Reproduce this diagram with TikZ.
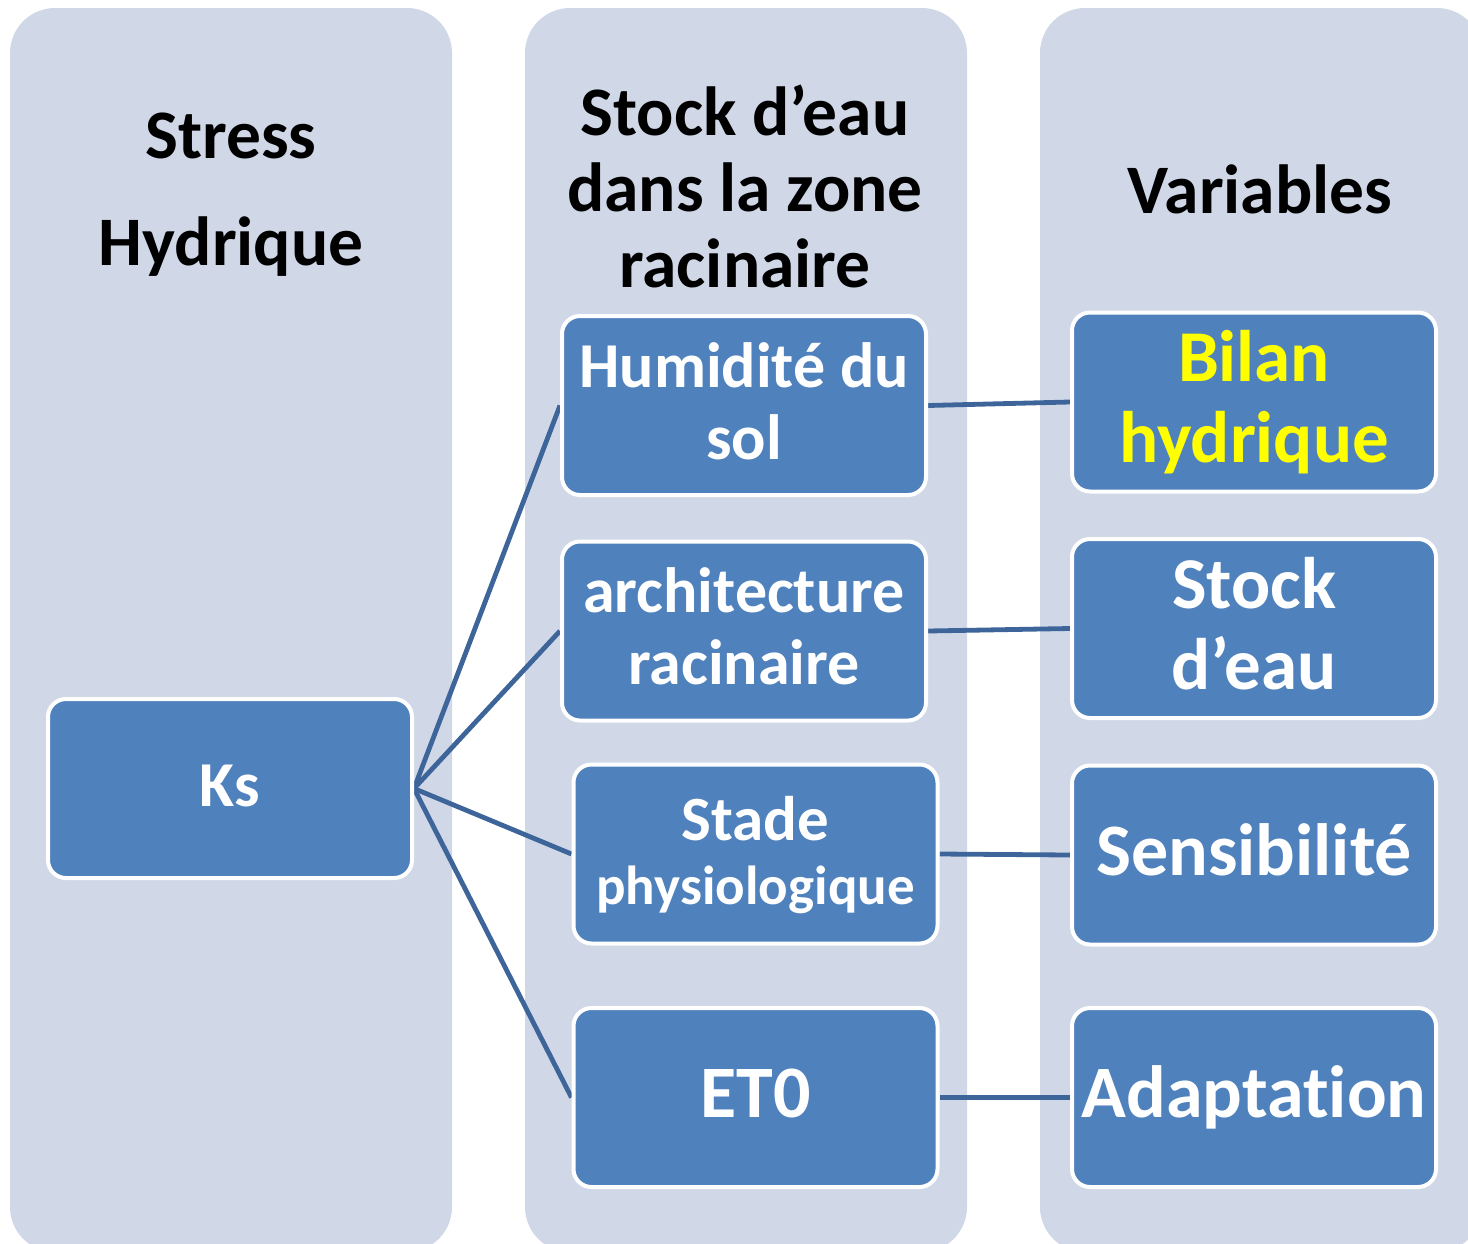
\documentclass[tikz,border=0pt]{standalone}
\usepackage{fontspec}
\setmainfont{Carlito}[Ligatures=NoCommon]
\usetikzlibrary{backgrounds}
\definecolor{panelfill}{HTML}{D0D8E8}
\definecolor{boxfill}{HTML}{4F81BD}
\definecolor{linkcol}{HTML}{3E6599}
\definecolor{hiyellow}{HTML}{FFFF00}
\newcommand{\lstrut}{\rule[-0.2em]{0pt}{0.95em}}
\newcommand{\fsz}[2]{\fontsize{#1}{#2}\selectfont}
\begin{document}
\begin{tikzpicture}[x=1pt,y=-1pt,
  panel/.style={fill=panelfill, draw=none, rounded corners=45pt},
  itembox/.style={draw=white, line width=4pt, fill=boxfill, rounded corners=18pt,
    minimum width=364pt, minimum height=179pt, text=white, align=center, inner sep=0pt},
  titletext/.style={align=center, text=black, inner sep=0pt},
  link/.style={draw=linkcol, line width=4.8pt}]
\useasboundingbox (0,0) rectangle (1468,1243);
\clip (0,0) rectangle (1468,1243);

% titles
\node[titletext, font=\bfseries\fsz{69.5}{107}] (t1) at (231,192.4) {\lstrut Stress\\\lstrut Hydrique};
\node[titletext, font=\bfseries\fsz{69.5}{76}] (t2) at (745,191.9) {\lstrut Stock d’eau\\\lstrut dans la zone\\\lstrut racinaire};
\node[titletext, font=\bfseries\fsz{69.5}{76}] (t3) at (1260,193.9) {\lstrut Variables};

% boxes
\node[itembox, font=\bfseries\fsz{64}{72}] (ks) at (230,788.5) {\lstrut Ks};
\node[itembox, font=\bfseries\fsz{64}{72}] (hum) at (744,405.5) {\lstrut Humidité du\\\lstrut sol};
\node[itembox, font=\bfseries\fsz{64}{72}] (arch) at (744,631) {\lstrut architecture\\\lstrut racinaire};
\node[itembox, font=\bfseries\fsz{63}{64}] (stade) at (755.5,854) {{\fsz{63}{64}\lstrut Stade}\\{\fsz{55}{64}\lstrut physiologique}};
\node[itembox, font=\bfseries\fsz{74}{76}] (et) at (755.5,1097.5) {\lstrut ET0};
\node[itembox, font=\bfseries\fsz{73}{81}, text=hiyellow] (bilan) at (1254,402) {\lstrut Bilan\\\lstrut hydrique};
\node[itembox, font=\bfseries\fsz{73}{81}] (stock) at (1254,628.5) {\lstrut Stock\\\lstrut d’eau};
\node[itembox, font=\bfseries\fsz{74}{76}] (sens) at (1254,855) {\lstrut Sensibilité};
\node[itembox, font=\bfseries\fsz{74}{76}] (adapt) at (1254,1097.5) {\lstrut Adaptation};

\begin{pgfonlayer}{background}
\path[panel] (10,8) rectangle (452,1252);
\path[panel] (525,8) rectangle (967,1252);
\path[panel] (1040,8) rectangle (1482,1252);
\draw[link] (ks.east) -- (hum.west);
\draw[link] (ks.east) -- (arch.west);
\draw[link] (ks.east) -- (stade.west);
\draw[link] (ks.east) -- (et.west);
\draw[link] (hum.east) -- (bilan.west);
\draw[link] (arch.east) -- (stock.west);
\draw[link] (stade.east) -- (sens.west);
\draw[link] (et.east) -- (adapt.west);
\end{pgfonlayer}
\end{tikzpicture}
\end{document}
